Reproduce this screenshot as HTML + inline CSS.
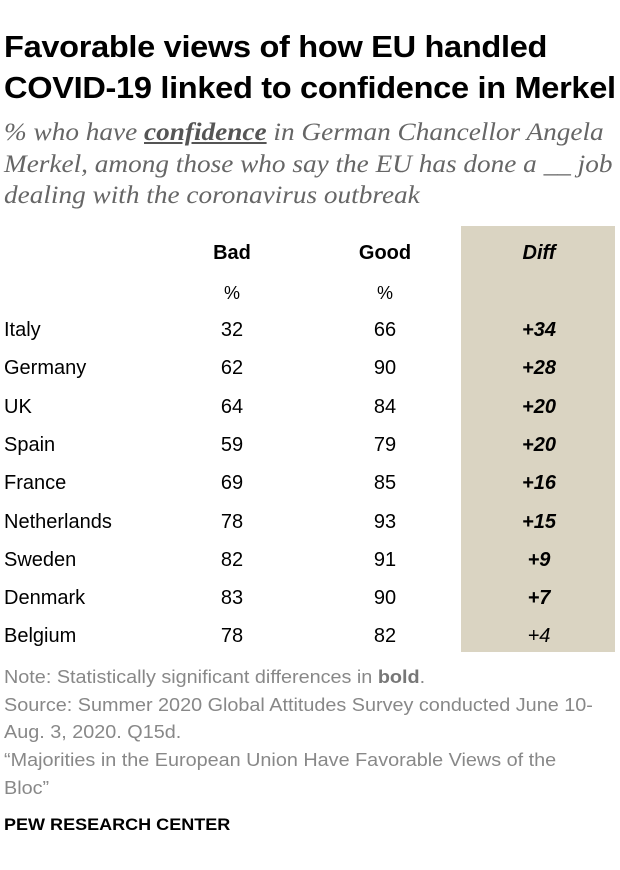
<!DOCTYPE html>
<html><head><meta charset="utf-8">
<style>
body{margin:0;width:620px;height:870px;background:#fff;position:relative;overflow:hidden;font-family:"Liberation Sans",sans-serif;}
.a{position:absolute;white-space:nowrap;}
.title{left:4px;font-size:31px;font-weight:bold;color:#000;letter-spacing:-0.3px;transform:scaleX(1.05);transform-origin:left;}
.sub{left:4px;font-family:"Liberation Serif",serif;font-style:italic;font-size:25px;color:#666;transform:scaleX(1.09);transform-origin:left;}
.c{font-size:20px;color:#000;transform:translateX(-50%);}
.note{left:4px;font-size:18px;color:#888;transform:scaleX(1.1);transform-origin:left;}
</style></head><body>
<div class="a title" style="top:29px">Favorable views of how EU handled</div>
<div class="a title" style="top:70px">COVID-19 linked to confidence in Merkel</div>
<div class="a sub" style="top:119px">% who have <b style="text-decoration:underline;color:#555">confidence</b> in German Chancellor Angela</div>
<div class="a sub" style="top:151px">Merkel, among those who say the EU has done a __ job</div>
<div class="a sub" style="top:182px">dealing with the coronavirus outbreak</div>
<div class="a" style="left:461px;top:226px;width:154px;height:426px;background:#dad4c2"></div>
<div class="a c" style="left:232px;top:242px;font-weight:bold">Bad</div>
<div class="a c" style="left:385px;top:242px;font-weight:bold">Good</div>
<div class="a c" style="left:539px;top:242px;font-weight:bold;font-style:italic">Diff</div>
<div class="a c" style="left:232px;top:283px;font-size:18px">%</div>
<div class="a c" style="left:385px;top:283px;font-size:18px">%</div>
<div id="rows"></div>
<div class="a note" style="top:667px">Note: Statistically significant differences in <b style="color:#777">bold</b>.</div>
<div class="a note" style="top:695px">Source: Summer 2020 Global Attitudes Survey conducted June 10-</div>
<div class="a note" style="top:722px">Aug. 3, 2020. Q15d.</div>
<div class="a note" style="top:750px">“Majorities in the European Union Have Favorable Views of the</div>
<div class="a note" style="top:778px">Bloc”</div>
<div class="a" style="left:4px;top:815px;font-size:17px;font-weight:bold;color:#000;transform:scaleX(1.06);transform-origin:left">PEW RESEARCH CENTER</div>
<script>
const countries=["Italy","Germany","UK","Spain","France","Netherlands","Sweden","Denmark","Belgium"];
const bad=[32,62,64,59,69,78,82,83,78];
const good=[66,90,84,79,85,93,91,90,82];
const diffs=[34,28,20,20,16,15,9,7,4];
const significant=[true,true,true,true,true,true,true,true,false];
const root=document.getElementById('rows');
function rowY(i){return 319+i*38.3;}
countries.forEach((c,i)=>{
  const y=rowY(i);
  const mk=(txt,cls,style)=>{const d=document.createElement('div');d.className='a '+cls;d.style.cssText=style;d.textContent=txt;root.appendChild(d);return d;};
  let e=mk(c,'', 'left:4px;top:'+y+'px;font-size:20px;color:#000');
  
  
  e=mk(bad[i],'c','left:232px;top:'+y+'px');
  
  
  e=mk(good[i],'c','left:385px;top:'+y+'px');
  
  
  e=mk('+'+diffs[i],'c','left:539px;top:'+y+'px;font-style:italic;font-weight:'+(significant[i]?'bold':'normal'));
  
  
});
</script>
</body></html>
